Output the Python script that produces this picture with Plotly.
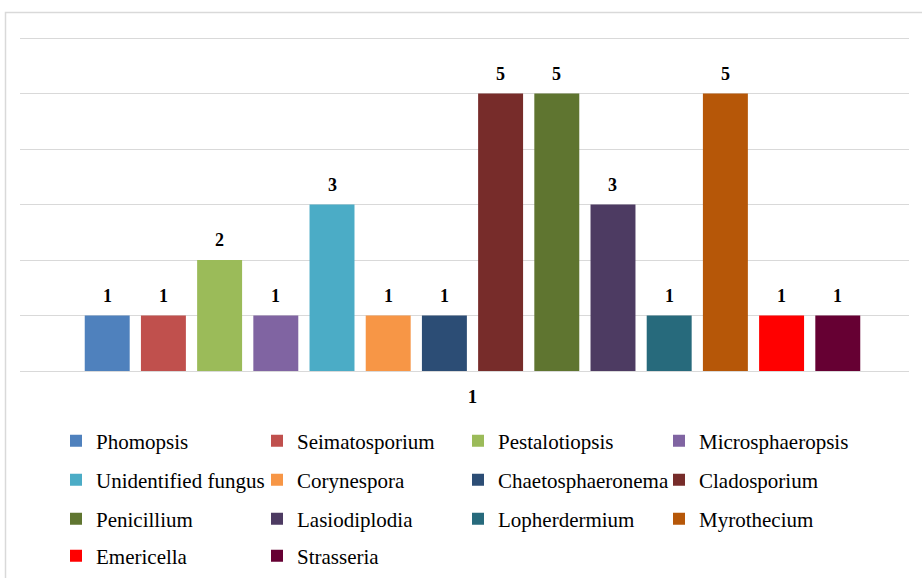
import plotly.graph_objects as go

genera = ["Phomopsis", "Seimatosporium", "Pestalotiopsis", "Microsphaeropsis",
          "Unidentified fungus", "Corynespora", "Chaetosphaeronema", "Cladosporium",
          "Penicillium", "Lasiodiplodia", "Lopherdermium", "Myrothecium",
          "Emericella", "Strasseria"]
counts = [1, 1, 2, 1, 3, 1, 1, 5, 5, 3, 1, 5, 1, 1]
colors = ["#4F81BD", "#C0504D", "#9BBB59", "#8064A2", "#4BACC6", "#F79646",
          "#2C4D75", "#772C2A", "#5F7530", "#4D3B62", "#276A7C", "#B65708",
          "#FF0000", "#660033"]
category = ["1"]

W, H = 922, 578
L, R, T, B = 20, 13, 36, 207
pw, ph = W - L - R, H - T - B
BARGAP, GROUPGAP = 0.115, 0.2
YMAX = 6.036

def px2x(px):
    return (px - L) / pw

def px2y(py):
    return (H - B - py) / ph

serif = "Liberation Serif, Times New Roman, serif"

fig = go.Figure()
legend_ids = ["legend", "legend2", "legend3", "legend4"]
for i, (g, v, c) in enumerate(zip(genera, counts, colors)):
    fig.add_trace(go.Bar(
        x=category, y=[v], name=g, marker=dict(color=c, line=dict(width=0)),
        legend=legend_ids[i // 4], hoverinfo="skip",
    ))

# value labels above each bar, centred on the bar's slot within the group
n = len(genera)
group_w = 1 - BARGAP
slot = group_w / n
annotations = []
for i, v in enumerate(counts):
    annotations.append(dict(
        x=-group_w / 2 + slot * (i + 0.5), y=v, xref="x", yref="y",
        text=f"<b>{v}</b>", showarrow=False, yanchor="bottom", yshift=8,
        font=dict(family=serif, size=18, color="#000000"),
    ))

row_y = [441, 480, 519, 556]
legend_common = dict(orientation="h", xanchor="left", yanchor="middle",
                     font=dict(family=serif, size=21, color="#000000"),
                     entrywidth=156, entrywidthmode="pixels",
                     bgcolor="rgba(0,0,0,0)", itemclick=False, itemdoubleclick=False)
layout_legends = {}
for k, lid in enumerate(legend_ids):
    layout_legends[lid] = dict(x=px2x(56), y=px2y(row_y[k]), **legend_common)

fig.update_layout(
    width=W, height=H,
    margin=dict(l=L, r=R, t=T, b=B, pad=0, autoexpand=False),
    paper_bgcolor="white", plot_bgcolor="white",
    barmode="group", bargap=BARGAP, bargroupgap=GROUPGAP,
    showlegend=True,
    xaxis=dict(type="category", range=[-0.509, 0.491], showgrid=False,
               showline=False, zeroline=False, ticks="",
               tickfont=dict(family=serif, size=19, color="#000000", weight="bold"),
               ticklabelstandoff=12),
    yaxis=dict(range=[0, YMAX], dtick=1, showticklabels=False, showgrid=True,
               gridcolor="#D9D9D9", gridwidth=1, zeroline=True,
               zerolinecolor="#D9D9D9", zerolinewidth=1, showline=False, ticks=""),
    shapes=[dict(type="rect", xref="paper", yref="paper",
                 x0=px2x(5.5), x1=px2x(940), y0=px2y(600), y1=px2y(12.5),
                 line=dict(color="#D9D9D9", width=1.5), fillcolor="rgba(0,0,0,0)",
                 layer="below")],
    annotations=annotations,
    **layout_legends,
)

fig.write_html("out.html", config={"displayModeBar": False},
               post_script="document.body.style.margin='0px';")
